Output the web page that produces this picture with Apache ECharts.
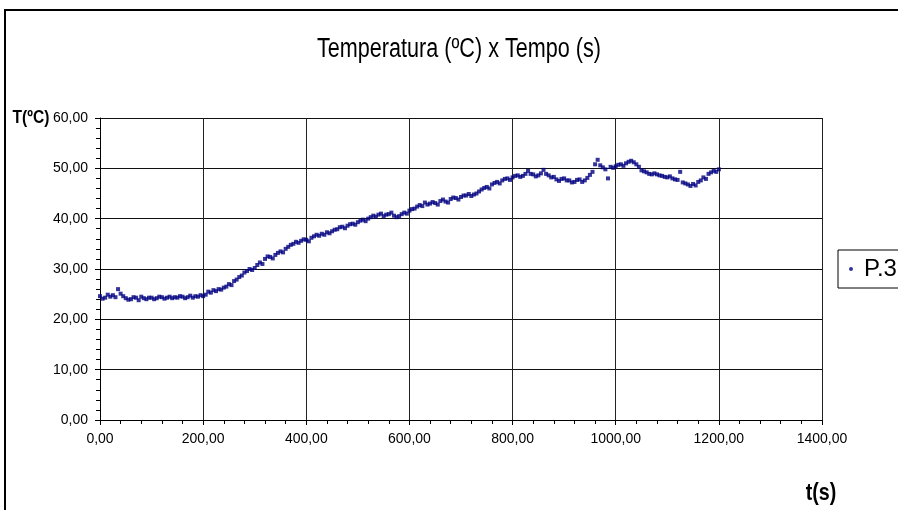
<!DOCTYPE html>
<html>
<head>
<meta charset="utf-8">
<script src="https://cdn.jsdelivr.net/npm/echarts@6/dist/echarts.min.js"></script>
<style>
  html, body { margin: 0; padding: 0; background: #fff; }
  #chart { width: 898px; height: 510px; }
</style>
</head>
<body>
<div id="chart"></div>
<script>
// tempo (s), uma leitura a cada 5 s
var tempoStep = 5;
// temperatura (ºC)
var temperatura = [
  24.6, 24.1, 24.3, 24.9, 24.5, 24.8, 24.4, 26.0, 25.1, 24.6,
  24.2, 23.9, 24.0, 24.4, 24.3, 23.8, 24.5, 24.2, 24.0, 24.3,
  24.3, 24.0, 24.2, 24.5, 24.4, 24.1, 24.3, 24.5, 24.2, 24.4,
  24.3, 24.6, 24.5, 24.2, 24.4, 24.7, 24.3, 24.6, 24.5, 24.8,
  24.6, 24.9, 25.5, 25.3, 25.8, 25.6, 26.0, 25.9, 26.3, 26.5,
  27.0, 26.8, 27.6, 27.9, 28.4, 28.7, 29.3, 29.6, 30.0, 29.8,
  30.2, 30.8, 31.3, 31.0, 32.0, 32.5, 32.4, 32.1, 32.8, 33.2,
  33.5, 33.3, 34.0, 34.4, 34.8, 35.0, 35.4, 35.2, 35.6, 35.9,
  35.8, 35.5, 36.2, 36.5, 36.8, 36.6, 37.0, 36.8, 37.3, 37.1,
  37.5, 37.8, 37.9, 38.3, 38.4, 38.1, 38.6, 38.9, 39.0, 38.8,
  39.3, 39.6, 39.8, 39.5, 40.0, 40.3, 40.6, 40.4, 40.8, 41.0,
  40.5, 40.8, 40.9, 41.2, 40.6, 40.3, 40.5, 40.9, 41.2, 41.0,
  41.6, 41.9, 42.0, 42.4, 42.7, 42.5, 43.2, 42.8, 43.0, 43.3,
  43.1, 42.8, 43.5, 43.8, 43.4, 43.2, 43.9, 44.2, 44.1, 43.8,
  44.3, 44.6, 44.6, 44.9, 44.5, 44.8, 45.0, 45.4, 45.8, 46.1,
  46.3, 46.0, 46.8, 47.1, 47.3, 47.0, 47.6, 47.9, 48.0, 47.7,
  48.2, 48.5, 48.6, 48.3, 48.5, 48.9, 49.5, 48.9, 48.8, 48.4,
  48.6, 49.0, 49.7, 48.9, 48.6, 48.2, 48.3, 47.8, 47.5, 47.9,
  48.0, 47.6, 47.6, 47.2, 47.3, 47.7, 47.8, 47.3, 47.6, 48.1,
  48.7, 49.3, 50.8, 51.7, 50.6, 50.2, 49.8, 48.0, 50.3, 50.1,
  50.4, 50.7, 50.8, 50.5, 51.0, 51.3, 51.5, 51.2, 50.8, 50.3,
  49.6, 49.4, 49.2, 48.9, 48.8, 49.0, 48.8, 48.6, 48.5, 48.3,
  48.2, 48.4, 48.0, 47.8, 47.7, 49.3, 47.2, 47.0, 46.8, 46.5,
  46.9, 46.6, 47.3, 47.6, 48.2, 47.9, 48.9, 49.2, 49.5, 49.3,
  49.8
];
var yTicks = [0, 10, 20, 30, 40, 50, 60];
var xTicks = [0, 200, 400, 600, 800, 1000, 1200, 1400];

var fonte = '"Liberation Sans", Arial, sans-serif';

function virgula(v) {
  return v.toFixed(2).replace('.', ',');
}

var pontos = temperatura.map(function(t, i) { return [i * tempoStep, t]; });

var chart = echarts.init(document.getElementById('chart'));
var option = {
  animation: false,
  backgroundColor: '#fff',
  legend: {
    left: 838,
    top: 250,
    orient: 'vertical',
    padding: [7, 10, 7, 11],
    borderColor: '#000',
    borderWidth: 1,
    itemWidth: 4,
    itemHeight: 4,
    itemGap: 0,
    textStyle: { fontFamily: fonte, fontSize: 24, color: '#000', padding: [0, 0, 0, 6] },
    data: [{ name: 'P.3', icon: 'circle' }]
  },
  grid: { left: 100, right: 76, top: 118, bottom: 90 },
  xAxis: {
    type: 'value',
    min: xTicks[0],
    max: xTicks[xTicks.length - 1],
    interval: 200,
    axisLine: { lineStyle: { color: '#000', width: 1 } },
    axisTick: { length: 5, lineStyle: { color: '#000' } },
    minorTick: { show: true, splitNumber: 5, length: 4, lineStyle: { color: '#000' } },
    splitLine: { show: true, lineStyle: { color: '#222', width: 1 } },
    axisLabel: { fontFamily: fonte, fontSize: 14, color: '#000', margin: 12, formatter: virgula }
  },
  yAxis: {
    type: 'value',
    min: yTicks[0],
    max: yTicks[yTicks.length - 1],
    interval: 10,
    axisLine: { show: true, lineStyle: { color: '#000', width: 1 } },
    axisTick: { show: true, length: 5, lineStyle: { color: '#000' } },
    minorTick: { show: true, splitNumber: 5, length: 4, lineStyle: { color: '#000' } },
    splitLine: { show: true, lineStyle: { color: '#111', width: 1 } },
    axisLabel: { fontFamily: fonte, fontSize: 14, color: '#000', margin: 12, formatter: virgula }
  },
  graphic: [
    { type: 'polyline', shape: { points: [[5, 510], [5, 10], [898, 10]] },
      style: { stroke: '#000', lineWidth: 2, fill: null } },
    // titulo em fonte estreita (escala horizontal)
    { type: 'text', x: 459, y: 50, scaleX: 0.8,
      style: { text: 'Temperatura (ºC) x Tempo (s)', font: '27px ' + fonte, fill: '#000',
               textAlign: 'center', textVerticalAlign: 'middle' } },
    { type: 'text', x: 31, y: 118, scaleX: 0.82,
      style: { text: 'T(ºC)', font: 'bold 19px ' + fonte, fill: '#000',
               textAlign: 'center', textVerticalAlign: 'middle' } },
    { type: 'text', x: 821, y: 493, scaleX: 0.82,
      style: { text: 't(s)', font: 'bold 24px ' + fonte, fill: '#000',
               textAlign: 'center', textVerticalAlign: 'middle' } }
  ],
  series: [{
    name: 'P.3',
    type: 'scatter',
    symbol: 'rect',
    symbolSize: 4,
    itemStyle: { color: '#000080' },
    data: pontos
  }]
};
chart.setOption(option);
</script>
</body>
</html>
